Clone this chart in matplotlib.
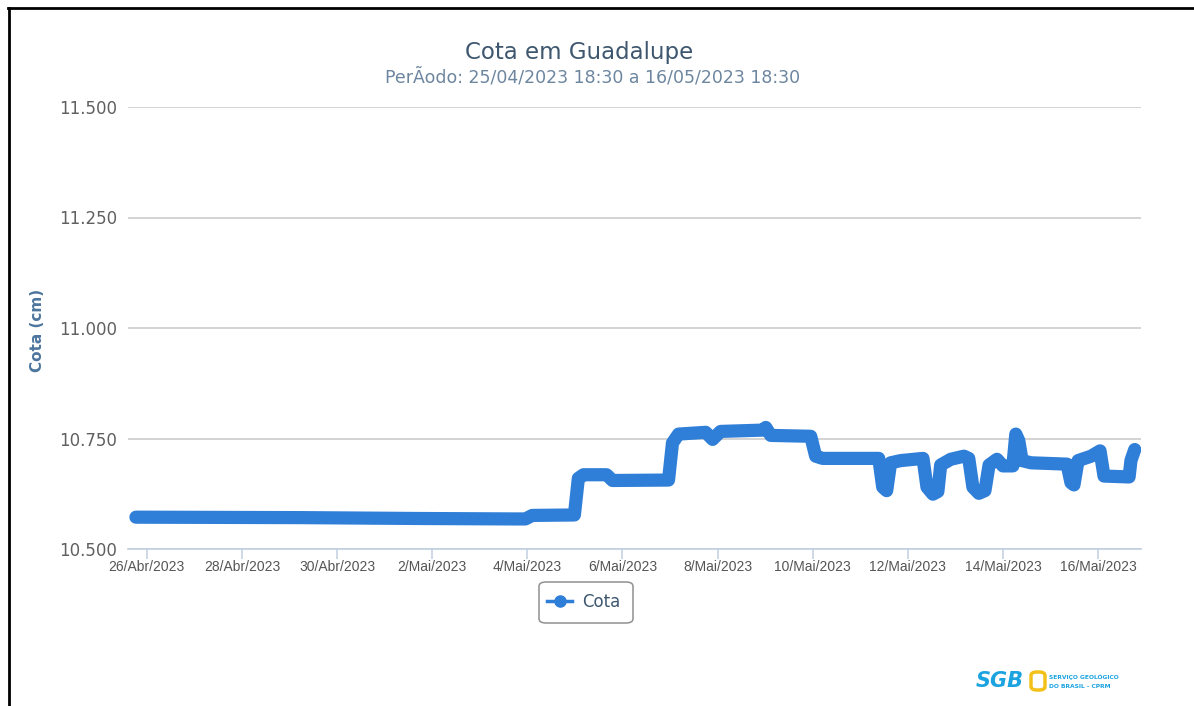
import matplotlib
matplotlib.use("Agg")
import matplotlib.pyplot as plt
from matplotlib.patches import FancyBboxPatch
from matplotlib.lines import Line2D
import pandas as pd

# ---- data ----
times = [
    "2023-04-25 18:30", "2023-04-29 05:20", "2023-05-01 18:00", "2023-05-03 18:00",
    "2023-05-03 23:00", "2023-05-04 02:30", "2023-05-04 23:45", "2023-05-05 01:45",
    "2023-05-05 04:20", "2023-05-05 16:00", "2023-05-05 19:00", "2023-05-06 23:15",
    "2023-05-07 01:15", "2023-05-07 04:20", "2023-05-07 18:00", "2023-05-07 21:30",
    "2023-05-08 01:30", "2023-05-08 22:45", "2023-05-09 00:20", "2023-05-09 02:50",
    "2023-05-09 23:00", "2023-05-10 01:30", "2023-05-10 05:00", "2023-05-11 09:20",
    "2023-05-11 11:20", "2023-05-11 13:20", "2023-05-11 15:20", "2023-05-11 20:25",
    "2023-05-12 07:40", "2023-05-12 09:40", "2023-05-12 12:40", "2023-05-12 15:10",
    "2023-05-12 16:35", "2023-05-12 21:40", "2023-05-13 04:20", "2023-05-13 06:45",
    "2023-05-13 08:50", "2023-05-13 11:50", "2023-05-13 14:55", "2023-05-13 17:00",
    "2023-05-13 21:00", "2023-05-14 00:00", "2023-05-14 05:00", "2023-05-14 06:30",
    "2023-05-14 08:00", "2023-05-14 09:40", "2023-05-14 14:10", "2023-05-15 08:20",
    "2023-05-15 10:20", "2023-05-15 11:50", "2023-05-15 13:55", "2023-05-15 20:30",
    "2023-05-16 01:00", "2023-05-16 03:00", "2023-05-16 15:40", "2023-05-16 16:35",
    "2023-05-16 18:30",
]
cota = [
    10.572, 10.571, 10.569, 10.568,
    10.568, 10.576, 10.577, 10.660,
    10.668, 10.668, 10.655, 10.656,
    10.740, 10.760, 10.764, 10.748,
    10.766, 10.769, 10.775, 10.757,
    10.755, 10.710, 10.705, 10.705,
    10.640, 10.632, 10.695, 10.700,
    10.705, 10.640, 10.624, 10.630,
    10.690, 10.703, 10.710, 10.705,
    10.640, 10.626, 10.632, 10.690,
    10.703, 10.688, 10.688, 10.760,
    10.745, 10.700, 10.695, 10.692,
    10.650, 10.645, 10.700, 10.710,
    10.722, 10.665, 10.663, 10.700,
    10.725,
]
y_ticks = [10.5, 10.75, 11.0, 11.25, 11.5]
y_tick_labels = ["10.500", "10.750", "11.000", "11.250", "11.500"]
x_tick_dates = ["2023-04-26", "2023-04-28", "2023-04-30", "2023-05-02", "2023-05-04",
                "2023-05-06", "2023-05-08", "2023-05-10", "2023-05-12", "2023-05-14",
                "2023-05-16"]
x_tick_labels = ["26/Abr/2023", "28/Abr/2023", "30/Abr/2023", "2/Mai/2023", "4/Mai/2023",
                 "6/Mai/2023", "8/Mai/2023", "10/Mai/2023", "12/Mai/2023", "14/Mai/2023",
                 "16/Mai/2023"]
title = "Cota em Guadalupe"
subtitle = "PerÃodo: 25/04/2023 18:30 a 16/05/2023 18:30"
series_name = "Cota"

W, H = 1194, 706
fig = plt.figure(figsize=(W / 100, H / 100), dpi=100)
fig.patch.set_facecolor("white")

L, R, T, B = 128, 1141, 107, 549
ax = fig.add_axes([L / W, 1 - B / H, (R - L) / W, (B - T) / H])

t = pd.to_datetime(times)
color = "#2F7ED8"
ax.plot(t, cota, color=color, lw=9.5, solid_capstyle="round", solid_joinstyle="round",
        zorder=3)

xmin = pd.Timestamp("2023-04-25 14:30")
xmax = pd.Timestamp("2023-05-16 21:40")
ax.set_xlim(xmin, xmax)
ax.set_ylim(10.5, 11.5)

ax.set_yticks(y_ticks)
ax.set_yticklabels(y_tick_labels)
ax.set_xticks(pd.to_datetime(x_tick_dates))
ax.set_xticklabels(x_tick_labels)

for s in ["top", "right", "left"]:
    ax.spines[s].set_visible(False)
ax.spines["bottom"].set_color("#C0D0E0")
ax.spines["bottom"].set_linewidth(1.2)

ax.grid(axis="y", color="#C8C8C8", lw=1.1, zorder=0)
ax.tick_params(axis="y", length=0, pad=8, labelsize=12, labelcolor="#606060")
ax.tick_params(axis="x", length=7, width=1.1, color="#C0D0E0", pad=1,
               labelsize=10, labelcolor="#555555")
for lab in ax.get_xticklabels():
    lab.set_fontfamily("Liberation Sans")
for lab in ax.get_yticklabels():
    lab.set_fontfamily("DejaVu Sans")

# titles
fig.text(579 / W, 1 - 52 / H, title, ha="center", va="center", fontsize=16.5,
         color="#3E576F", family="DejaVu Sans")
fig.text(593 / W, 1 - 77 / H, subtitle, ha="center", va="center", fontsize=12.5,
         color="#6D869F", family="DejaVu Sans")
fig.text(38 / W, 1 - 330 / H, "Cota (cm)", rotation=90, ha="center", va="center",
         fontsize=11, fontweight="bold", color="#4D759E", family="DejaVu Sans")

# legend box
bx0, by0, bx1, by1 = 539, 582, 633, 623
box = FancyBboxPatch((bx0 / W, 1 - by1 / H), (bx1 - bx0) / W, (by1 - by0) / H,
                     boxstyle="round,pad=0,rounding_size=0.006",
                     transform=fig.transFigure, facecolor="white",
                     edgecolor="#909090", lw=1.1)
fig.patches.append(box)
fig.lines.append(Line2D([547 / W, 572 / W], [1 - 601 / H, 1 - 601 / H], color=color,
                        lw=2.5, transform=fig.transFigure))
fig.lines.append(Line2D([559.5 / W], [1 - 601 / H], color=color, marker="o",
                        markersize=8, lw=0, transform=fig.transFigure))
fig.text(582 / W, 1 - 602 / H, series_name, ha="left", va="center", fontsize=12,
         color="#3E576F", family="DejaVu Sans")

# logo (approximation, as text)
fig.text(976 / W, 1 - 681 / H, "SGB", ha="left", va="center", fontsize=15,
         fontweight="bold", fontstyle="italic", color="#1BA3E0", family="DejaVu Sans")
fig.text(1049 / W, 1 - 677 / H, "SERVIÇO GEOLÓGICO", ha="left", va="center",
         fontsize=4.3, fontweight="bold", color="#1BA3E0", family="DejaVu Sans")
fig.text(1049 / W, 1 - 686 / H, "DO BRASIL - CPRM", ha="left", va="center",
         fontsize=4.3, fontweight="bold", color="#1BA3E0", family="DejaVu Sans")
fig.patches.append(FancyBboxPatch((1031 / W, 1 - 690 / H), 14 / W, 18 / H,
                                  boxstyle="round,pad=0,rounding_size=0.005",
                                  transform=fig.transFigure, facecolor="none",
                                  edgecolor="#F2C21B", lw=2.5))

# outer frame lines of the screenshot
fig.lines.append(Line2D([8 / W, 1.0], [1 - 8 / H, 1 - 8 / H], color="black", lw=2,
                        transform=fig.transFigure))
fig.lines.append(Line2D([9 / W, 9 / W], [1 - 8 / H, 0.0], color="black", lw=2,
                        transform=fig.transFigure))

fig.savefig("out.png", dpi=100, facecolor="white")
